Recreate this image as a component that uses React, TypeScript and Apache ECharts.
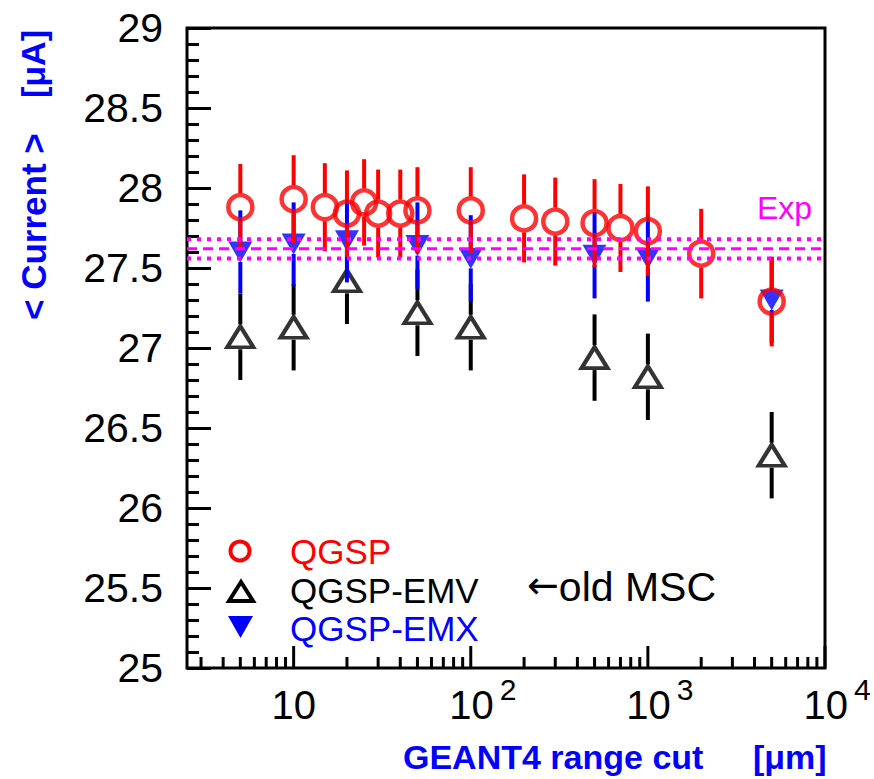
import React, { useEffect, useRef } from 'react';
import * as echarts from 'echarts';

// ---- data ----
const cutQGSP = [5, 10, 15, 20, 25, 30, 40, 50, 100, 200, 300, 500, 700, 1000, 2000, 5000];
const curQGSP = [27.88, 27.93, 27.88, 27.84, 27.91, 27.84, 27.84, 27.86, 27.86, 27.81, 27.79, 27.78, 27.75, 27.73, 27.59, 27.29];
const errQGSP = [0.27, 0.275, 0.275, 0.27, 0.27, 0.275, 0.275, 0.27, 0.27, 0.275, 0.275, 0.275, 0.275, 0.28, 0.28, 0.28];

const cutEMV = [5, 10, 20, 50, 100, 500, 1000, 5000];
const curEMV = [27.07, 27.13, 27.42, 27.22, 27.13, 26.94, 26.82, 26.33];
const errEMV = [0.27, 0.27, 0.27, 0.27, 0.27, 0.27, 0.27, 0.27];

const cutEMX = [5, 10, 20, 50, 100, 500, 1000, 5000];
const curEMX = [27.6, 27.65, 27.67, 27.64, 27.56, 27.58, 27.56, 27.3];
const errEMX = [0.26, 0.26, 0.26, 0.27, 0.27, 0.27, 0.27, 0.27];

const expValue = 27.62;
const expErr = 0.06;

const xMajorTicks = [10, 100, 1000, 10000];
const xMinorTicks = [3, 4, 5, 6, 7, 8, 9, 20, 30, 40, 50, 60, 70, 80, 90, 200, 300, 400, 500, 600, 700, 800, 900, 2000, 3000, 4000, 5000, 6000, 7000, 8000, 9000];

const X_MIN = 2.5;
const X_MAX = 10000;
const Y_MIN = 25;
const Y_MAX = 29;

const RED = '#ff0000';
const BLUE = '#0000ff';
const BLACK = '#000000';
const MAGENTA = '#ff00ff';
const FONT = '"Liberation Sans", Arial, Helvetica, sans-serif';

function errorBars(name: string, cuts: number[], vals: number[], errs: number[], color: string, gap: number, z: number) {
  return {
    type: 'custom',
    name,
    z,
    silent: true,
    data: cuts.map((c, i) => [c, vals[i], errs[i]]),
    encode: { x: 0, y: 1 },
    renderItem: (params: any, api: any) => {
      const x = api.value(0);
      const v = api.value(1);
      const e = api.value(2);
      const c = api.coord([x, v]);
      const t = api.coord([x, v + e]);
      const b = api.coord([x, v - e]);
      const style = { stroke: color, lineWidth: 4 };
      return {
        type: 'group',
        children: [
          { type: 'line', shape: { x1: c[0], y1: t[1], x2: c[0], y2: c[1] - gap }, style },
          { type: 'line', shape: { x1: c[0], y1: c[1] + gap, x2: c[0], y2: b[1] }, style },
        ],
      };
    },
  };
}

function xLabel(value: number): string {
  const l = Math.log10(value);
  const r = Math.round(l);
  if (Math.abs(l - r) > 1e-6) return '';
  if (r === 1) return '{b|10}';
  return '{p| }{b|10}{s|' + r + '}';
}

export default function App() {
  const ref = useRef<HTMLDivElement>(null);
  useEffect(() => {
    if (!ref.current) return;
    const chart = echarts.init(ref.current, null, { renderer: 'svg' });
    const option: any = {
      animation: false,
      backgroundColor: '#ffffff',
      textStyle: { fontFamily: FONT },
      grid: {
        left: 187,
        right: 49,
        top: 28,
        bottom: 111,
        show: true,
        borderColor: BLACK,
        borderWidth: 3,
        backgroundColor: 'transparent',
      },
      xAxis: {
        type: 'log',
        logBase: 10,
        min: X_MIN,
        max: X_MAX,
        axisLine: { show: false },
        axisTick: { show: false },
        splitLine: { show: false },
        axisLabel: {
          show: true,
          margin: 6,
          color: BLACK,
          fontSize: 40,
          fontFamily: FONT,
          formatter: xLabel,
          rich: {
            b: { fontSize: 40, lineHeight: 40, padding: [22, 0, 0, 0], color: BLACK, fontFamily: FONT },
            s: { fontSize: 30, lineHeight: 30, verticalAlign: 'top', padding: [0, 0, 0, 6], color: BLACK, fontFamily: FONT },
            p: { width: 24, fontSize: 30, lineHeight: 30, color: BLACK },
          },
        },
      },
      yAxis: {
        type: 'value',
        min: Y_MIN,
        max: Y_MAX,
        interval: 0.5,
        axisLine: { show: false },
        splitLine: { show: false },
        axisTick: { show: true, inside: true, length: 24, lineStyle: { color: BLACK, width: 3 } },
        minorTick: { show: true, splitNumber: 5, length: 12, lineStyle: { color: BLACK, width: 3 } },
        axisLabel: {
          margin: 24,
          color: BLACK,
          fontSize: 41,
          fontFamily: FONT,
          showMinLabel: true,
          showMaxLabel: true,
        },
      },
      series: [
        {
          type: 'custom',
          name: 'xticks',
          silent: true,
          z: 3,
          data: [
            ...xMajorTicks.map((v) => [v, Y_MIN, 22]),
            ...xMinorTicks.map((v) => [v, Y_MIN, 11]),
          ],
          encode: { x: 0, y: 1 },
          renderItem: (params: any, api: any) => {
            const p = api.coord([api.value(0), api.value(1)]);
            const len = api.value(2);
            return {
              type: 'line',
              shape: { x1: p[0], y1: p[1], x2: p[0], y2: p[1] - len },
              style: { stroke: BLACK, lineWidth: 3 },
            };
          },
        },
        errorBars('EMV err', cutEMV, curEMV, errEMV, BLACK, 12.5, 4),
        {
          type: 'scatter',
          name: 'QGSP-EMV',
          z: 5,
          data: cutEMV.map((c, i) => [c, curEMV[i]]),
          symbol: 'triangle',
          symbolSize: [26, 21],
          itemStyle: { color: 'rgba(0,0,0,0)', borderColor: BLACK, borderWidth: 4 },
        },
        errorBars('EMX err', cutEMX, curEMX, errEMX, BLUE, 10, 6),
        {
          type: 'scatter',
          name: 'QGSP-EMX',
          z: 7,
          data: cutEMX.map((c, i) => [c, curEMX[i]]),
          symbol: 'triangle',
          symbolRotate: 180,
          symbolSize: [24, 21],
          itemStyle: { color: BLUE, borderWidth: 0 },
        },
        errorBars('QGSP err', cutQGSP, curQGSP, errQGSP, RED, 14, 8),
        {
          type: 'scatter',
          name: 'QGSP',
          z: 9,
          data: cutQGSP.map((c, i) => [c, curQGSP[i]]),
          symbol: 'circle',
          symbolSize: 24,
          itemStyle: { color: 'rgba(0,0,0,0)', borderColor: RED, borderWidth: 4.5 },
        },
        {
          type: 'custom',
          name: 'Exp',
          silent: true,
          z: 10,
          data: [
            [X_MIN, expValue - expErr, 0],
            [X_MIN, expValue, 1],
            [X_MIN, expValue + expErr, 0],
          ],
          encode: { x: 0, y: 1 },
          renderItem: (params: any, api: any) => {
            const cs = params.coordSys;
            const p = api.coord([api.value(0), api.value(1)]);
            const dashed = api.value(2) === 1;
            return {
              type: 'line',
              shape: { x1: cs.x, y1: p[1], x2: cs.x + cs.width, y2: p[1] },
              style: dashed
                ? { stroke: MAGENTA, lineWidth: 3, lineDash: [10, 6] }
                : { stroke: MAGENTA, lineWidth: 4, lineDash: [4, 6] },
            };
          },
        },
      ],
      graphic: [
        // y-axis title
        {
          type: 'text', x: 33, y: 320, rotation: Math.PI / 2,
          style: { text: '< Current >', font: 'bold 35px ' + FONT, fill: BLUE, align: 'left', verticalAlign: 'middle' },
        },
        {
          type: 'text', x: 33, y: 98, rotation: Math.PI / 2,
          style: { text: '[μA]', font: 'bold 34px ' + FONT, fill: BLUE, align: 'left', verticalAlign: 'middle' },
        },
        // x-axis title
        {
          type: 'text', x: 403, y: 757,
          style: { text: 'GEANT4 range cut', font: 'bold 34px ' + FONT, fill: BLUE, align: 'left', verticalAlign: 'middle' },
        },
        {
          type: 'text', x: 753, y: 757,
          style: { text: '[μm]', font: 'bold 34px ' + FONT, fill: BLUE, align: 'left', verticalAlign: 'middle' },
        },
        // Exp label
        {
          type: 'text', x: 757, y: 208,
          style: { text: 'Exp', font: '32px ' + FONT, fill: MAGENTA, align: 'left', verticalAlign: 'middle' },
        },
        // legend
        {
          type: 'circle', shape: { cx: 240, cy: 551, r: 9.5 },
          style: { fill: 'none', stroke: RED, lineWidth: 4 },
        },
        {
          type: 'polygon', shape: { points: [[241, 582], [229, 601], [253, 601]] },
          style: { fill: 'none', stroke: BLACK, lineWidth: 4 },
        },
        {
          type: 'polygon', shape: { points: [[228, 616], [253, 616], [240.5, 638]] },
          style: { fill: BLUE, stroke: 'none' },
        },
        {
          type: 'text', x: 290, y: 551,
          style: { text: 'QGSP', font: '35px ' + FONT, fill: RED, align: 'left', verticalAlign: 'middle' },
        },
        {
          type: 'text', x: 290, y: 590,
          style: { text: 'QGSP-EMV', font: '35px ' + FONT, fill: BLACK, align: 'left', verticalAlign: 'middle' },
        },
        {
          type: 'text', x: 290, y: 628,
          style: { text: 'QGSP-EMX', font: '35px ' + FONT, fill: BLUE, align: 'left', verticalAlign: 'middle' },
        },
        {
          type: 'text', x: 527, y: 587,
          style: {
            text: '{a|←}{t|old MSC}',
            fill: BLACK,
            align: 'left',
            verticalAlign: 'middle',
            rich: {
              a: { fontFamily: '"DejaVu Sans", sans-serif', fontSize: 38, fill: BLACK, padding: [0, 0, 4, 0] },
              t: { fontFamily: FONT, fontSize: 41, fill: BLACK },
            },
          },
        },
      ],
    };
    chart.setOption(option);
    return () => chart.dispose();
  }, []);
  return (
    <div
      ref={ref}
      style={{ position: 'fixed', left: 0, top: 0, width: 874, height: 779, background: '#ffffff' }}
    />
  );
}
